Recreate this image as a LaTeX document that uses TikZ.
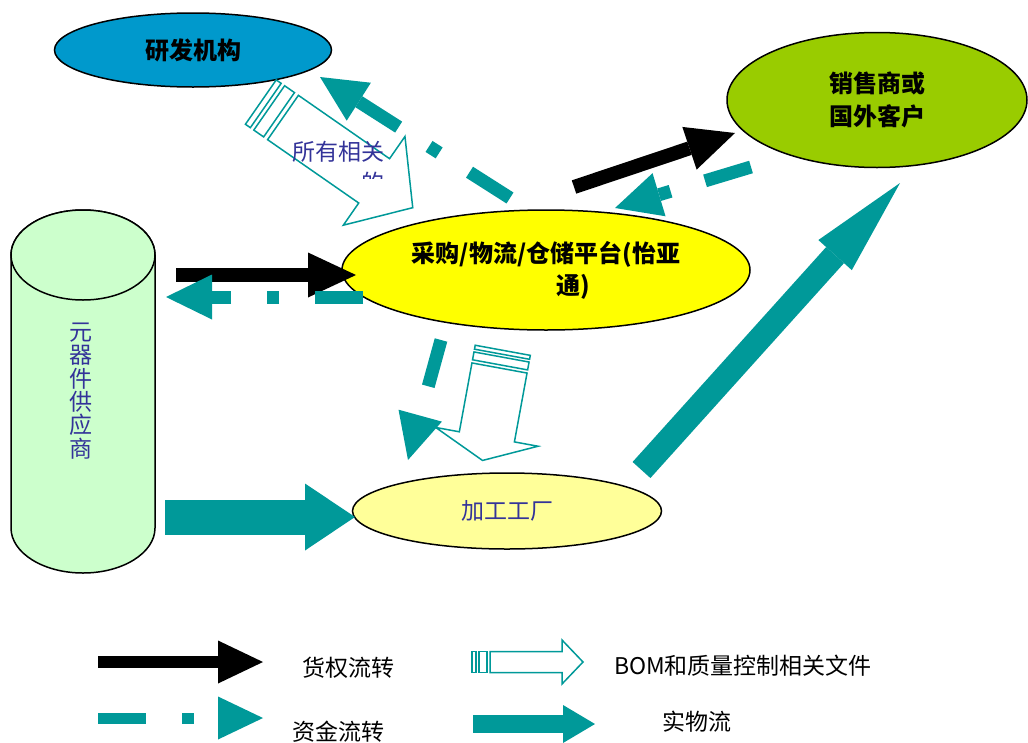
\documentclass[tikz,border=0pt]{standalone}
\usepackage{fontspec}
\setmainfont{Noto Sans CJK SC}
\usetikzlibrary{shapes.geometric,arrows.meta}

\definecolor{flowteal}{HTML}{009999}
\definecolor{rndblue}{HTML}{0099CC}
\definecolor{salesgreen}{HTML}{99CC00}
\definecolor{platyellow}{HTML}{FFFF00}
\definecolor{factoryyellow}{HTML}{FFFF99}
\definecolor{supgreen}{HTML}{CCFFCC}
\definecolor{labelblue}{HTML}{333399}

% hollow document arrow: tail, angle, shaft length, half width, head length, head half width, stripe unit
\newcommand{\bomarrow}[7]{%
  \begin{scope}[shift={(#1)}, rotate=#2]
    \draw[bom] (0,-#4) -- (#3,-#4) -- (#3,-#6) -- ({#3+#5},0) -- (#3,#6) -- (#3,#4) -- (0,#4) -- cycle;
    \draw[bom] ({-4.5*#7},-#4) rectangle ({-3.5*#7},#4);
    \draw[bom] ({-2.8*#7},-#4) rectangle ({-0.8*#7},#4);
  \end{scope}}

\begin{document}
\begin{tikzpicture}
[x=1pt, y=-1pt,
party/.style={ellipse, draw=black, line width=1.5pt, inner sep=0pt, align=center},
goods/.style={line width=14pt, -{Triangle[length=48pt,width=45pt,line width=0pt]}},
cash/.style={flowteal, line width=13pt, dash pattern=on 48pt off 36pt on 12pt off 36pt,
  -{Triangle[length=46pt,width=45pt,line width=0pt]}},
goodsflow/.style={flowteal, -{Triangle[length=50pt,width=67pt,line width=0pt]}},
bom/.style={draw=flowteal, fill=white, line width=1.5pt},
legend/.style={font=\fontsize{23}{28}\selectfont},
]
\useasboundingbox[fill=white] (0,0) rectangle (1028,742);

% parties
\node[party, fill=rndblue, minimum width=277pt, minimum height=74pt,
  font=\bfseries\fontsize{24}{30}\selectfont] (rnd) at (193,50) {研发机构};
\node[party, fill=salesgreen, minimum width=300pt, minimum height=135pt,
  font=\bfseries\fontsize{24}{33}\selectfont] (sales) at (877,100) {销售商或\\国外客户};
\node[party, fill=platyellow, minimum width=408pt, minimum height=120pt,
  font=\bfseries\fontsize{24}{32}\selectfont] (plat) at (546,270)
  {采购/物流/仓储平台(怡亚\\\hspace*{54pt}通)};
\node[party, fill=factoryyellow, minimum width=309pt, minimum height=76pt,
  text=labelblue, font=\fontsize{23}{28}\selectfont] (factory) at (507,511) {加工工厂};

% supplier cylinder
\filldraw[fill=supgreen, draw=black, line width=1.5pt]
  (11,255) -- (11,528) arc[start angle=180, end angle=0, x radius=72, y radius=45]
  -- (155,255) arc[start angle=360, end angle=180, x radius=72, y radius=45] -- cycle;
\filldraw[fill=supgreen, draw=black, line width=1.5pt] (83,255) ellipse [x radius=72, y radius=45];
\node[text=labelblue, align=center, inner sep=0pt, font=\fontsize{23}{23.3}\selectfont] (sup) at (81,391)
  {元\\器\\件\\供\\应\\商};

% connector ends
\coordinate (g1s) at (176,275);   \coordinate (g1e) at (356,275);
\coordinate (g2s) at (574,187);   \coordinate (g2e) at (735,133);
\coordinate (c1s) at (363,297);   \coordinate (c1e) at (166,297);
\coordinate (c2s) at (510,198);   \coordinate (c2e) at (320,77);
\coordinate (c3s) at (751,167);   \coordinate (c3e) at (615,208);
\coordinate (c4s) at (441,340);   \coordinate (c4e) at (408,460);
\coordinate (p1s) at (165,517);   \coordinate (p1e) at (355,517);
\coordinate (p2s) at (641.5,470); \coordinate (p2e) at (900,183);
\coordinate (bomA) at (283,117.5);
\coordinate (bomB) at (499.5,368);

% goods ownership
\draw[goods] (g1s) -- (g1e);
\draw[goods] (g2s) -- (g2e);

% cash
\draw[cash] (c1s) -- (c1e);
\draw[cash] (c2s) -- (c2e);
\draw[cash] (c3s) -- (c3e);
\draw[cash] (c4s) -- (c4e);

% physical flow
\draw[goodsflow, line width=35pt] (p1s) -- (p1e);
\draw[goodsflow, line width=24pt, -{Triangle[length=97pt,width=45pt,line width=0pt]}] (p2s) -- (p2e);

% BOM and quality documents
\bomarrow{bomA}{-34.8}{111}{27}{47}{54}{6}
\bomarrow{bomB}{-100.4}{70}{28}{24}{52}{4}
\begin{scope}
  \clip (270,125) rectangle (420,178);
  \node[text=labelblue, align=right, inner sep=0pt, font=\fontsize{23}{31}\selectfont] (doctext) at (338.5,167)
    {所有相关\\的};
\end{scope}

% legend
\coordinate (lg1s) at (98,662);  \coordinate (lg1e) at (263,662);
\coordinate (lg2s) at (98,718);  \coordinate (lg2e) at (263,718);
\coordinate (lg3s) at (473,724); \coordinate (lg3e) at (595,724);
\coordinate (lgbom) at (490,662);
\draw[line width=12pt, -{Triangle[length=45pt,width=43pt,line width=0pt]}] (lg1s) -- (lg1e);
\draw[cash, line width=11pt, -{Triangle[length=45pt,width=43pt,line width=0pt]}] (lg2s) -- (lg2e);
\draw[goodsflow, line width=18pt, -{Triangle[length=32pt,width=38pt,line width=0pt]}] (lg3s) -- (lg3e);
\bomarrow{lgbom}{0}{72}{10.5}{21}{22}{4}
\node[legend] (lgtxt1) at (348,668) {货权流转};
\node[legend] (lgtxt2) at (338,732) {资金流转};
\node[legend] (lgtxt3) at (743,666) {BOM和质量控制相关文件};
\node[legend] (lgtxt4) at (697,722) {实物流};
\end{tikzpicture}
\end{document}
